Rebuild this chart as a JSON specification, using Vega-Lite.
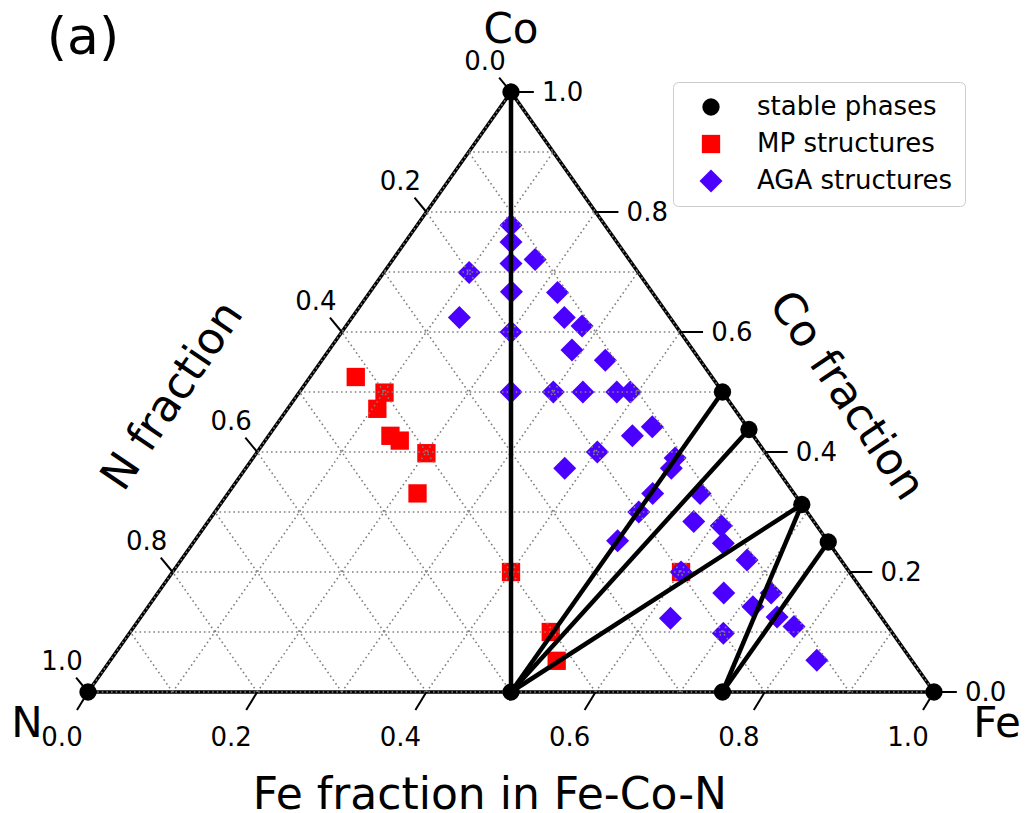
{
  "$schema": "https://vega.github.io/schema/vega-lite/v6.json",
  "width": 846,
  "height": 600,
  "autosize": {"type": "none"},
  "padding": {"left": 88, "top": 92, "right": 91, "bottom": 121},
  "background": "white",
  "config": {"view": {"stroke": null}, "font": "DejaVu Sans", "text": {"font": "DejaVu Sans", "color": "black"}},
  "datasets": {
    "points": [
      {"type": "MP structures", "fe": 0.054, "co": 0.525},
      {"type": "MP structures", "fe": 0.101, "co": 0.499},
      {"type": "MP structures", "fe": 0.106, "co": 0.472},
      {"type": "MP structures", "fe": 0.144, "co": 0.427},
      {"type": "MP structures", "fe": 0.159, "co": 0.419},
      {"type": "MP structures", "fe": 0.201, "co": 0.398},
      {"type": "MP structures", "fe": 0.224, "co": 0.331},
      {"type": "MP structures", "fe": 0.4, "co": 0.2},
      {"type": "MP structures", "fe": 0.497, "co": 0.1},
      {"type": "MP structures", "fe": 0.528, "co": 0.052},
      {"type": "MP structures", "fe": 0.601, "co": 0.2},
      {"type": "AGA structures", "fe": 0.111, "co": 0.778},
      {"type": "AGA structures", "fe": 0.125, "co": 0.75},
      {"type": "AGA structures", "fe": 0.143, "co": 0.714},
      {"type": "AGA structures", "fe": 0.168, "co": 0.721},
      {"type": "AGA structures", "fe": 0.101, "co": 0.699},
      {"type": "AGA structures", "fe": 0.167, "co": 0.667},
      {"type": "AGA structures", "fe": 0.127, "co": 0.624},
      {"type": "AGA structures", "fe": 0.222, "co": 0.666},
      {"type": "AGA structures", "fe": 0.251, "co": 0.624},
      {"type": "AGA structures", "fe": 0.279, "co": 0.61},
      {"type": "AGA structures", "fe": 0.2, "co": 0.6},
      {"type": "AGA structures", "fe": 0.287, "co": 0.57},
      {"type": "AGA structures", "fe": 0.335, "co": 0.553},
      {"type": "AGA structures", "fe": 0.25, "co": 0.5},
      {"type": "AGA structures", "fe": 0.3, "co": 0.5},
      {"type": "AGA structures", "fe": 0.335, "co": 0.5},
      {"type": "AGA structures", "fe": 0.375, "co": 0.5},
      {"type": "AGA structures", "fe": 0.391, "co": 0.5},
      {"type": "AGA structures", "fe": 0.446, "co": 0.442},
      {"type": "AGA structures", "fe": 0.43, "co": 0.427},
      {"type": "AGA structures", "fe": 0.402, "co": 0.4},
      {"type": "AGA structures", "fe": 0.377, "co": 0.373},
      {"type": "AGA structures", "fe": 0.499, "co": 0.39},
      {"type": "AGA structures", "fe": 0.503, "co": 0.373},
      {"type": "AGA structures", "fe": 0.502, "co": 0.331},
      {"type": "AGA structures", "fe": 0.558, "co": 0.331},
      {"type": "AGA structures", "fe": 0.501, "co": 0.3},
      {"type": "AGA structures", "fe": 0.574, "co": 0.284},
      {"type": "AGA structures", "fe": 0.5, "co": 0.252},
      {"type": "AGA structures", "fe": 0.61, "co": 0.277},
      {"type": "AGA structures", "fe": 0.627, "co": 0.248},
      {"type": "AGA structures", "fe": 0.669, "co": 0.22},
      {"type": "AGA structures", "fe": 0.601, "co": 0.2},
      {"type": "AGA structures", "fe": 0.669, "co": 0.165},
      {"type": "AGA structures", "fe": 0.725, "co": 0.165},
      {"type": "AGA structures", "fe": 0.715, "co": 0.142},
      {"type": "AGA structures", "fe": 0.752, "co": 0.125},
      {"type": "AGA structures", "fe": 0.78, "co": 0.109},
      {"type": "AGA structures", "fe": 0.627, "co": 0.123},
      {"type": "AGA structures", "fe": 0.702, "co": 0.098},
      {"type": "AGA structures", "fe": 0.835, "co": 0.053},
      {"type": "stable phases", "fe": 0, "co": 0},
      {"type": "stable phases", "fe": 1, "co": 0},
      {"type": "stable phases", "fe": 0, "co": 1},
      {"type": "stable phases", "fe": 0.5, "co": 0},
      {"type": "stable phases", "fe": 0.75, "co": 0},
      {"type": "stable phases", "fe": 0.5, "co": 0.5},
      {"type": "stable phases", "fe": 0.5625, "co": 0.4375},
      {"type": "stable phases", "fe": 0.6875, "co": 0.3125},
      {"type": "stable phases", "fe": 0.75, "co": 0.25}
    ],
    "ties": [
      {"fe1": 0, "co1": 1, "fe2": 0.5, "co2": 0},
      {"fe1": 0.5, "co1": 0, "fe2": 0.5, "co2": 0.5},
      {"fe1": 0.5, "co1": 0, "fe2": 0.5625, "co2": 0.4375},
      {"fe1": 0.5, "co1": 0, "fe2": 0.6875, "co2": 0.3125},
      {"fe1": 0.75, "co1": 0, "fe2": 0.6875, "co2": 0.3125},
      {"fe1": 0.75, "co1": 0, "fe2": 0.75, "co2": 0.25}
    ],
    "edges": [
      {"fe1": 0, "co1": 0, "fe2": 1, "co2": 0},
      {"fe1": 1, "co1": 0, "fe2": 0, "co2": 1},
      {"fe1": 0, "co1": 1, "fe2": 0, "co2": 0}
    ],
    "grid": [
      {"fe1": 0, "co1": 0, "fe2": 1, "co2": 0},
      {"fe1": 0, "co1": 0.1, "fe2": 0.9, "co2": 0.1},
      {"fe1": 0, "co1": 0.2, "fe2": 0.8, "co2": 0.2},
      {"fe1": 0, "co1": 0.3, "fe2": 0.7, "co2": 0.3},
      {"fe1": 0, "co1": 0.4, "fe2": 0.6, "co2": 0.4},
      {"fe1": 0, "co1": 0.5, "fe2": 0.5, "co2": 0.5},
      {"fe1": 0, "co1": 0.6, "fe2": 0.4, "co2": 0.6},
      {"fe1": 0, "co1": 0.7, "fe2": 0.3, "co2": 0.7},
      {"fe1": 0, "co1": 0.8, "fe2": 0.2, "co2": 0.8},
      {"fe1": 0, "co1": 0.9, "fe2": 0.1, "co2": 0.9},
      {"fe1": 0, "co1": 0, "fe2": 0, "co2": 1},
      {"fe1": 0.1, "co1": 0, "fe2": 0.1, "co2": 0.9},
      {"fe1": 0.2, "co1": 0, "fe2": 0.2, "co2": 0.8},
      {"fe1": 0.3, "co1": 0, "fe2": 0.3, "co2": 0.7},
      {"fe1": 0.4, "co1": 0, "fe2": 0.4, "co2": 0.6},
      {"fe1": 0.5, "co1": 0, "fe2": 0.5, "co2": 0.5},
      {"fe1": 0.6, "co1": 0, "fe2": 0.6, "co2": 0.4},
      {"fe1": 0.7, "co1": 0, "fe2": 0.7, "co2": 0.3},
      {"fe1": 0.8, "co1": 0, "fe2": 0.8, "co2": 0.2},
      {"fe1": 0.9, "co1": 0, "fe2": 0.9, "co2": 0.1},
      {"fe1": 1, "co1": 0, "fe2": 0, "co2": 1},
      {"fe1": 0.9, "co1": 0, "fe2": 0, "co2": 0.9},
      {"fe1": 0.8, "co1": 0, "fe2": 0, "co2": 0.8},
      {"fe1": 0.7, "co1": 0, "fe2": 0, "co2": 0.7},
      {"fe1": 0.6, "co1": 0, "fe2": 0, "co2": 0.6},
      {"fe1": 0.5, "co1": 0, "fe2": 0, "co2": 0.5},
      {"fe1": 0.4, "co1": 0, "fe2": 0, "co2": 0.4},
      {"fe1": 0.3, "co1": 0, "fe2": 0, "co2": 0.3},
      {"fe1": 0.2, "co1": 0, "fe2": 0, "co2": 0.2},
      {"fe1": 0.1, "co1": 0, "fe2": 0, "co2": 0.1}
    ],
    "ticks": [
      {"axis": "bottom", "v": 0}, {"axis": "bottom", "v": 0.2}, {"axis": "bottom", "v": 0.4},
      {"axis": "bottom", "v": 0.6}, {"axis": "bottom", "v": 0.8}, {"axis": "bottom", "v": 1},
      {"axis": "right", "v": 0}, {"axis": "right", "v": 0.2}, {"axis": "right", "v": 0.4},
      {"axis": "right", "v": 0.6}, {"axis": "right", "v": 0.8}, {"axis": "right", "v": 1},
      {"axis": "left", "v": 0}, {"axis": "left", "v": 0.2}, {"axis": "left", "v": 0.4},
      {"axis": "left", "v": 0.6}, {"axis": "left", "v": 0.8}, {"axis": "left", "v": 1}
    ],
    "labels": [
      {"label": "Co", "x": 0.5, "y": 1, "kind": "corner"},
      {"label": "N", "x": 0, "y": 0, "kind": "cornerN"},
      {"label": "Fe", "x": 1, "y": 0, "kind": "cornerFe"},
      {"label": "Fe fraction in Fe-Co-N", "x": 0.475, "y": 0, "kind": "bottomTitle"},
      {"label": "N fraction", "x": 0.1005, "y": 0.493, "kind": "leftTitle"},
      {"label": "Co fraction", "x": 0.896, "y": 0.493, "kind": "rightTitle"},
      {"label": "(a)", "x": 0, "y": 1, "kind": "panel"}
    ]
  },
  "layer": [
    {
      "data": {"name": "edges"},
      "transform": [
        {"calculate": "datum.fe1 + datum.co1/2", "as": "x1"},
        {"calculate": "datum.fe2 + datum.co2/2", "as": "x2"}
      ],
      "mark": {"type": "rule", "color": "black", "strokeWidth": 3.5},
      "encoding": {
        "x": {"field": "x1", "type": "quantitative", "scale": {"domain": [0, 1], "nice": false, "zero": false}, "axis": null},
        "y": {"field": "co1", "type": "quantitative", "scale": {"domain": [0, 1], "nice": false, "zero": false}, "axis": null},
        "x2": {"field": "x2"},
        "y2": {"field": "co2"}
      }
    },
    {
      "data": {"name": "points"},
      "transform": [
        {"filter": "datum.type == 'MP structures'"},
        {"calculate": "datum.fe + datum.co/2", "as": "x"}
      ],
      "mark": {"type": "point", "filled": true, "opacity": 1, "strokeWidth": 0, "size": 335},
      "encoding": {
        "x": {"field": "x", "type": "quantitative", "scale": {"domain": [0, 1], "nice": false, "zero": false}, "axis": null},
        "y": {"field": "co", "type": "quantitative", "scale": {"domain": [0, 1], "nice": false, "zero": false}, "axis": null},
        "color": {
          "field": "type", "type": "nominal",
          "scale": {"domain": ["stable phases", "MP structures", "AGA structures"], "range": ["#000000", "#ff0000", "#4b00ff"]},
          "legend": {
            "title": null, "orient": "none", "legendX": 585, "legendY": -10,
            "padding": 12, "symbolOffset": 13, "labelOffset": 33, "labelLimit": 400,
            "labelFontSize": 26, "labelFont": "DejaVu Sans", "labelColor": "black",
            "rowPadding": 11, "strokeColor": "#cccccc", "fillColor": "white", "cornerRadius": 5,
            "symbolStrokeWidth": 0, "symbolOpacity": 1,
            "encode": {"symbols": {"update": {"size": {"signal": "datum.value === 'AGA structures' ? 529 : datum.value === 'MP structures' ? 335 : 300"}}}}
          }
        },
        "shape": {
          "field": "type", "type": "nominal",
          "scale": {"domain": ["stable phases", "MP structures", "AGA structures"], "range": ["circle", "square", "diamond"]}
        }
      }
    },
    {
      "data": {"name": "points"},
      "transform": [
        {"filter": "datum.type == 'AGA structures'"},
        {"calculate": "datum.fe + datum.co/2", "as": "x"}
      ],
      "mark": {"type": "point", "filled": true, "opacity": 1, "strokeWidth": 0, "size": 529},
      "encoding": {
        "x": {"field": "x", "type": "quantitative", "scale": {"domain": [0, 1], "nice": false, "zero": false}, "axis": null},
        "y": {"field": "co", "type": "quantitative", "scale": {"domain": [0, 1], "nice": false, "zero": false}, "axis": null},
        "color": {"field": "type", "type": "nominal"},
        "shape": {"field": "type", "type": "nominal"}
      }
    },
    {
      "data": {"name": "grid"},
      "transform": [
        {"calculate": "datum.fe1 + datum.co1/2", "as": "x1"},
        {"calculate": "datum.fe2 + datum.co2/2", "as": "x2"}
      ],
      "mark": {"type": "rule", "color": "#808080", "strokeWidth": 1.6, "strokeDash": [1.6, 3]},
      "encoding": {
        "x": {"field": "x1", "type": "quantitative", "scale": {"domain": [0, 1], "nice": false, "zero": false}, "axis": null},
        "y": {"field": "co1", "type": "quantitative", "scale": {"domain": [0, 1], "nice": false, "zero": false}, "axis": null},
        "x2": {"field": "x2"},
        "y2": {"field": "co2"}
      }
    },
    {
      "data": {"name": "ticks"},
      "transform": [
        {"calculate": "datum.axis=='bottom' ? datum.v : datum.axis=='right' ? 1 - datum.v/2 : (1 - datum.v)/2", "as": "bx"},
        {"calculate": "datum.axis=='bottom' ? 0 : datum.axis=='right' ? datum.v : 1 - datum.v", "as": "by"},
        {"calculate": "datum.axis=='bottom' ? datum.v - 0.013 : datum.axis=='right' ? 1 - datum.v/2 + 0.027 : (1 - datum.v)/2 - 0.014", "as": "ex"},
        {"calculate": "datum.axis=='bottom' ? -0.03 : datum.axis=='right' ? datum.v : 1 - datum.v + 0.024", "as": "ey"}
      ],
      "layer": [
        {
          "mark": {"type": "rule", "color": "black", "strokeWidth": 2},
          "encoding": {
            "x": {"field": "bx", "type": "quantitative", "scale": {"domain": [0, 1], "nice": false, "zero": false}, "axis": null},
            "y": {"field": "by", "type": "quantitative", "scale": {"domain": [0, 1], "nice": false, "zero": false}, "axis": null},
            "x2": {"field": "ex"},
            "y2": {"field": "ey"}
          }
        },
        {
          "transform": [{"filter": "datum.axis=='bottom'"}],
          "mark": {"type": "text", "fontSize": 26, "align": "center", "baseline": "middle", "dx": -26, "dy": 46},
          "encoding": {
            "x": {"field": "bx", "type": "quantitative", "scale": {"domain": [0, 1], "nice": false, "zero": false}, "axis": null},
            "y": {"field": "by", "type": "quantitative", "scale": {"domain": [0, 1], "nice": false, "zero": false}, "axis": null},
            "text": {"field": "v", "type": "quantitative", "format": ".1f"}
          }
        },
        {
          "transform": [{"filter": "datum.axis=='right'"}],
          "mark": {"type": "text", "fontSize": 26, "align": "left", "baseline": "middle", "dx": 31, "dy": 1},
          "encoding": {
            "x": {"field": "bx", "type": "quantitative", "scale": {"domain": [0, 1], "nice": false, "zero": false}, "axis": null},
            "y": {"field": "by", "type": "quantitative", "scale": {"domain": [0, 1], "nice": false, "zero": false}, "axis": null},
            "text": {"field": "v", "type": "quantitative", "format": ".1f"}
          }
        },
        {
          "transform": [{"filter": "datum.axis=='left'"}],
          "mark": {"type": "text", "fontSize": 26, "align": "center", "baseline": "middle", "dx": -26, "dy": -30},
          "encoding": {
            "x": {"field": "bx", "type": "quantitative", "scale": {"domain": [0, 1], "nice": false, "zero": false}, "axis": null},
            "y": {"field": "by", "type": "quantitative", "scale": {"domain": [0, 1], "nice": false, "zero": false}, "axis": null},
            "text": {"field": "v", "type": "quantitative", "format": ".1f"}
          }
        }
      ]
    },
    {
      "data": {"name": "ties"},
      "transform": [
        {"calculate": "datum.fe1 + datum.co1/2", "as": "x1"},
        {"calculate": "datum.fe2 + datum.co2/2", "as": "x2"}
      ],
      "mark": {"type": "rule", "color": "black", "strokeWidth": 4.5},
      "encoding": {
        "x": {"field": "x1", "type": "quantitative", "scale": {"domain": [0, 1], "nice": false, "zero": false}, "axis": null},
        "y": {"field": "co1", "type": "quantitative", "scale": {"domain": [0, 1], "nice": false, "zero": false}, "axis": null},
        "x2": {"field": "x2"},
        "y2": {"field": "co2"}
      }
    },
    {
      "data": {"name": "points"},
      "transform": [
        {"filter": "datum.type == 'stable phases'"},
        {"calculate": "datum.fe + datum.co/2", "as": "x"}
      ],
      "mark": {"type": "point", "filled": true, "opacity": 1, "strokeWidth": 0, "size": 300},
      "encoding": {
        "x": {"field": "x", "type": "quantitative", "scale": {"domain": [0, 1], "nice": false, "zero": false}, "axis": null},
        "y": {"field": "co", "type": "quantitative", "scale": {"domain": [0, 1], "nice": false, "zero": false}, "axis": null},
        "color": {"field": "type", "type": "nominal"},
        "shape": {"field": "type", "type": "nominal"}
      }
    },
    {
      "data": {"name": "labels"},
      "layer": [
        {
          "transform": [{"filter": "datum.kind == 'corner'"}],
          "mark": {"type": "text", "fontSize": 42, "align": "center", "baseline": "middle", "dy": -62}
        },
        {
          "transform": [{"filter": "datum.kind == 'cornerN'"}],
          "mark": {"type": "text", "fontSize": 42, "align": "center", "baseline": "middle", "dx": -61, "dy": 32}
        },
        {
          "transform": [{"filter": "datum.kind == 'cornerFe'"}],
          "mark": {"type": "text", "fontSize": 42, "align": "center", "baseline": "middle", "dx": 63, "dy": 32}
        },
        {
          "transform": [{"filter": "datum.kind == 'bottomTitle'"}],
          "mark": {"type": "text", "fontSize": 44, "align": "center", "baseline": "middle", "dy": 104}
        },
        {
          "transform": [{"filter": "datum.kind == 'leftTitle'"}],
          "mark": {"type": "text", "fontSize": 44, "align": "center", "baseline": "middle", "angle": 304}
        },
        {
          "transform": [{"filter": "datum.kind == 'rightTitle'"}],
          "mark": {"type": "text", "fontSize": 44, "align": "center", "baseline": "middle", "angle": 56}
        },
        {
          "transform": [{"filter": "datum.kind == 'panel'"}],
          "mark": {"type": "text", "fontSize": 52, "align": "center", "baseline": "middle", "dx": -5, "dy": -54}
        }
      ],
      "encoding": {
        "x": {"field": "x", "type": "quantitative", "scale": {"domain": [0, 1], "nice": false, "zero": false}, "axis": null},
        "y": {"field": "y", "type": "quantitative", "scale": {"domain": [0, 1], "nice": false, "zero": false}, "axis": null},
        "text": {"field": "label", "type": "nominal"}
      }
    }
  ]
}
